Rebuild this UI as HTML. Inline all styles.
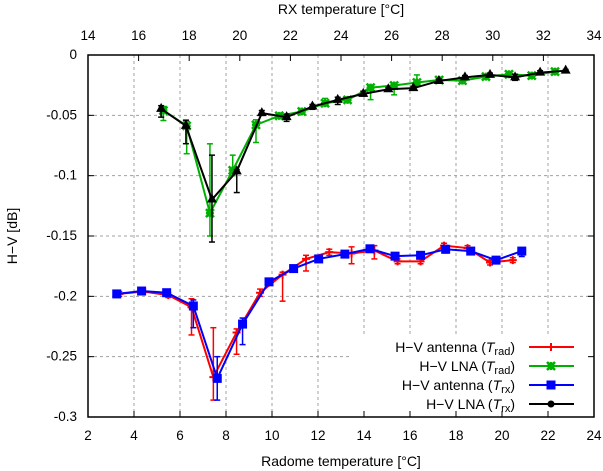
<!DOCTYPE html>
<html><head><meta charset="utf-8">
<style>
body{margin:0;background:#fff;}
svg{display:block;font-family:"Liberation Sans",sans-serif;}
</style></head>
<body>
<svg id="chart" width="603" height="471" xmlns="http://www.w3.org/2000/svg"></svg>
<script>
// Bottom axis (radome temp) series
const radX = [3.36,4.4,5.49,6.5,7.45,8.46,9.48,10.46,11.48,12.49,13.46,14.45,15.46,16.46,17.48,18.5,19.48,20.47];
const radV = [-0.198,-0.196,-0.199,-0.209,-0.267,-0.230,-0.197,-0.182,-0.169,-0.1634,-0.1645,-0.162,-0.171,-0.171,-0.158,-0.160,-0.172,-0.170];
const radLo = [-0.200,-0.198,-0.201,-0.232,-0.286,-0.248,-0.200,-0.204,-0.179,-0.166,-0.173,-0.169,-0.173,-0.173,-0.161,-0.162,-0.174,-0.172];
const radHi = [-0.196,-0.194,-0.197,-0.202,-0.226,-0.227,-0.194,-0.180,-0.166,-0.161,-0.159,-0.158,-0.169,-0.169,-0.156,-0.158,-0.170,-0.168];
const rxAX = [3.25,4.33,5.42,6.58,7.62,8.72,9.87,10.94,12.03,13.17,14.26,15.35,16.46,17.55,18.64,19.74,20.86];
const rxAV = [-0.198,-0.1956,-0.197,-0.208,-0.268,-0.223,-0.188,-0.177,-0.169,-0.165,-0.1606,-0.1667,-0.166,-0.161,-0.1625,-0.170,-0.1625];
const rxALo = [-0.200,-0.197,-0.199,-0.226,-0.286,-0.240,-0.190,-0.179,-0.171,-0.167,-0.163,-0.169,-0.168,-0.164,-0.165,-0.172,-0.167];
const rxAHi = [-0.196,-0.194,-0.195,-0.203,-0.250,-0.218,-0.186,-0.175,-0.167,-0.163,-0.159,-0.164,-0.164,-0.158,-0.160,-0.168,-0.160];
// Top axis (RX temp) series
const lnaRadX = [16.98,17.9,18.82,19.72,20.64,21.56,22.45,23.37,24.26,25.17,26.1,27.0,27.88,28.8,29.73,30.64,31.54,32.46];
const lnaRadV = [-0.046,-0.0587,-0.131,-0.0956,-0.0579,-0.0504,-0.0468,-0.040,-0.0372,-0.027,-0.0253,-0.0228,-0.0207,-0.0212,-0.0179,-0.016,-0.0171,-0.0138];
const lnaRadLo = [-0.0543,-0.0818,-0.150,-0.100,-0.0725,-0.052,-0.048,-0.041,-0.039,-0.037,-0.033,-0.024,-0.022,-0.023,-0.019,-0.017,-0.018,-0.015];
const lnaRadHi = [-0.0427,-0.055,-0.0736,-0.083,-0.0537,-0.049,-0.045,-0.036,-0.036,-0.026,-0.024,-0.0165,-0.019,-0.020,-0.017,-0.015,-0.016,-0.013];
const lnaRxX = [16.89,17.87,18.9,19.88,20.87,21.85,22.87,23.87,24.88,25.87,26.86,27.87,28.9,29.89,30.88,31.87,32.88];
const lnaRxV = [-0.0446,-0.0587,-0.1198,-0.0964,-0.0482,-0.0515,-0.0427,-0.0372,-0.0322,-0.0284,-0.0275,-0.0215,-0.0185,-0.0165,-0.0185,-0.0146,-0.013];
const lnaRxLo = [-0.0515,-0.0735,-0.155,-0.114,-0.050,-0.055,-0.045,-0.041,-0.034,-0.030,-0.029,-0.023,-0.020,-0.018,-0.021,-0.016,-0.014];
const lnaRxHi = [-0.042,-0.054,-0.083,-0.095,-0.046,-0.049,-0.041,-0.035,-0.030,-0.027,-0.026,-0.020,-0.017,-0.015,-0.016,-0.013,-0.012];
const bottomTicks = [2,4,6,8,10,12,14,16,18,20,22,24];
const topTicks = [14,16,18,20,22,24,26,28,30,32,34];
const yTicks = [0,-0.05,-0.1,-0.15,-0.2,-0.25,-0.3];
const yTickLabels = ["0","-0.05","-0.1","-0.15","-0.2","-0.25","-0.3"];

const L=88,R=594,T=55,B=417;
const xb = v => L + (v-2)/22*(R-L);
const xt = v => L + (v-14)/20*(R-L);
const y = v => T + (0-v)/0.3*(B-T);
const svg = document.getElementById('chart');
const NS="http://www.w3.org/2000/svg";
function mk(tag, attrs, parent){const e=document.createElementNS(NS,tag);for(const k in attrs)e.setAttribute(k,attrs[k]);(parent||svg).appendChild(e);return e;}

const grid = mk('g',{});


bottomTicks.slice(1,-1).forEach(t=>{mk('line',{x1:xb(t),x2:xb(t),y1:T,y2:B,stroke:'#a0a0a0','stroke-dasharray':'3,3','stroke-width':1},grid);});
yTicks.slice(1,-1).forEach(t=>{mk('line',{x1:L,x2:R,y1:y(t),y2:y(t),stroke:'#a0a0a0','stroke-dasharray':'3,3','stroke-width':1},grid);});
const lbg = mk('rect',{x:350,y:337,width:R-350,height:B-337,fill:'#fff'});



const ax = mk('g',{});


bottomTicks.forEach(t=>{
  mk('line',{x1:xb(t),x2:xb(t),y1:B,y2:B-6,stroke:'#000'},ax);
  const tx=mk('text',{x:xb(t),y:440,'text-anchor':'middle','font-size':13.5},ax);tx.textContent=t;
  
  
});
topTicks.forEach(t=>{
  mk('line',{x1:xt(t),x2:xt(t),y1:T,y2:T+6,stroke:'#000'},ax);
  const tx=mk('text',{x:xt(t),y:40,'text-anchor':'middle','font-size':13.5},ax);tx.textContent=t;
  
  
});
yTicks.forEach((t,i)=>{
  mk('line',{x1:L,x2:L+6,y1:y(t),y2:y(t),stroke:'#000'},ax);
  mk('line',{x1:R,x2:R-6,y1:y(t),y2:y(t),stroke:'#000'},ax);
  const tx=mk('text',{x:77,y:y(t)+4,'text-anchor':'end','font-size':13.5},ax);tx.textContent=yTickLabels[i];
  
  
});

function series(xs,vs,lo,hi,xf,color,marker,name){
  const g=mk('g',{});
  
  
  xs.forEach((xv,i)=>{
    const px=xf(xv);
    mk('line',{x1:px,x2:px,y1:y(lo[i]),y2:y(hi[i]),stroke:color,'stroke-width':1.5},g);
    mk('line',{x1:px-3,x2:px+3,y1:y(lo[i]),y2:y(lo[i]),stroke:color,'stroke-width':1.5},g);
    mk('line',{x1:px-3,x2:px+3,y1:y(hi[i]),y2:y(hi[i]),stroke:color,'stroke-width':1.5},g);
  });
  mk('polyline',{points:xs.map((xv,i)=>xf(xv)+','+y(vs[i])).join(' '),fill:'none',stroke:color,'stroke-width':2},g);
  xs.forEach((xv,i)=>drawMarker(g,xf(xv),y(vs[i]),color,marker));
}
function drawMarker(g,px,py,color,marker){
  if(marker==='plus'){mk('path',{d:`M${px-4},${py}H${px+4}M${px},${py-4}V${py+4}`,stroke:color,'stroke-width':2},g);}
  else if(marker==='star'){mk('path',{d:`M${px-4},${py-4}L${px+4},${py+4}M${px-4},${py+4}L${px+4},${py-4}M${px-4},${py}H${px+4}M${px},${py-4}V${py+4}`,stroke:color,'stroke-width':2.5},g);}
  else if(marker==='square'){mk('rect',{x:px-4.5,y:py-4.5,width:9,height:9,fill:color},g);}
  else if(marker==='tri'){mk('path',{d:`M${px},${py-6}L${px+5},${py+3}L${px-5},${py+3}Z`,fill:color},g);}
  else if(marker==='dot'){mk('circle',{cx:px,cy:py,r:3.5,fill:color},g);}
}
series(radX,radV,radLo,radHi,xb,'#ff0000','plus','series-antenna-trad');
series(lnaRadX,lnaRadV,lnaRadLo,lnaRadHi,xt,'#00b000','star','series-lna-trad');
series(rxAX,rxAV,rxALo,rxAHi,xb,'#0000ff','square','series-antenna-trx');
series(lnaRxX,lnaRxV,lnaRxLo,lnaRxHi,xt,'#000000','tri','series-lna-trx');

mk('rect',{x:L,y:T,width:R-L,height:B-T,fill:'none',stroke:'#000','stroke-width':1.5});

const leg=[["H−V antenna (","rad",")",'#ff0000','plus'],["H−V LNA (","rad",")",'#00b000','star'],["H−V antenna (","rx",")",'#0000ff','square'],["H−V LNA (","rx",")",'#000000','dot']];
leg.forEach((e,i)=>{
  const ly=347+i*19;
  const g=mk('g',{});
  
  
  const t=mk('text',{x:515,y:ly+5,'text-anchor':'end','font-size':14},g);
  t.innerHTML=`${e[0]}<tspan font-style="italic">T</tspan><tspan font-size="11" dy="3">${e[1]}</tspan><tspan dy="-3">${e[2]}</tspan>`;
  mk('line',{x1:529,x2:574,y1:ly,y2:ly,stroke:e[3],'stroke-width':2},g);
  drawMarker(g,551,ly,e[3],e[4]);
});

const t1=mk('text',{x:341,y:14,'text-anchor':'middle','font-size':14});t1.textContent='RX temperature [°C]';


const t2=mk('text',{x:341,y:466,'text-anchor':'middle','font-size':14});t2.textContent='Radome temperature [°C]';


const t3=mk('text',{x:17,y:236,'text-anchor':'middle','font-size':14,transform:'rotate(-90 17 236)'});t3.textContent='H−V [dB]';


</script>
</body></html>
